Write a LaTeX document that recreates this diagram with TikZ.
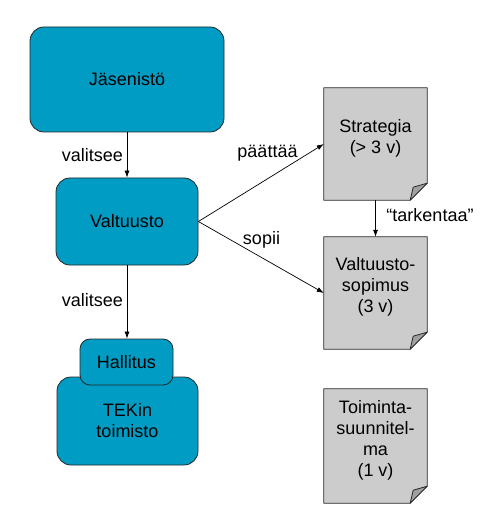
\documentclass[tikz,border=0pt]{standalone}
\usepackage{fontspec}
\setmainfont{Liberation Sans}
\usetikzlibrary{arrows.meta,backgrounds}
\definecolor{tekblue}{RGB}{0,156,196}
\definecolor{paper}{RGB}{204,204,204}
\definecolor{foldgray}{RGB}{160,160,160}
\newcommand{\mainfs}{\fontsize{18}{21}\selectfont}
% paper sheet with a folded corner behind a doc node
\newcommand{\docsheet}[1]{%
  \filldraw[fill=paper, draw=black!85, line width=0.8pt, line join=round]
    (#1.north west) -- (#1.north east) -- ([yshift=17pt]#1.south east)
    -- ([xshift=-17pt]#1.south east) -- (#1.south west) -- cycle;
  \filldraw[fill=foldgray, draw=black!85, line width=0.8pt, line join=round]
    ([yshift=17pt]#1.south east) -- ([xshift=-14pt,yshift=13pt]#1.south east)
    -- ([xshift=-17pt]#1.south east) -- cycle;}

\begin{document}
\begin{tikzpicture}[x=1pt,y=-1pt,
  box/.style={draw=black!85, fill=tekblue, rounded corners=14pt, line width=0.8pt,
    align=center, font=\mainfs, inner sep=0pt},
  doc/.style={minimum width=103pt, minimum height=112pt, inner sep=0pt},
  doctext/.style={align=center, font=\mainfs, inner sep=0pt, yshift=6pt},
  lbl/.style={font=\mainfs, inner sep=0pt},
  arr/.style={-{Latex[length=7pt,width=5pt]}, line width=0.7pt}]
\useasboundingbox (0,0) rectangle (496,526);

% organisation
\node[box, minimum width=194pt, minimum height=105pt] (jas) at (127,79.5) {Jäsenistö};
\node[box, minimum width=142pt, minimum height=87pt] (val) at (127,221.5) {Valtuusto};
\node[box, minimum width=141pt, minimum height=88pt] (tek) at (127.5,421) {TEKin\\toimisto};
\node[box, minimum width=93pt, minimum height=46pt, rounded corners=10pt] (hal) at (126.5,362) {Hallitus};

% documents
\node[doc, label={[doctext]center:{Strategia\\(> 3 v)}}] (str) at (375.5,144) {};
\node[doc, label={[doctext]center:{Valtuusto-\\sopimus\\(3 v)}}] (vsop) at (375.5,293) {};
\node[doc, minimum height=114pt, label={[doctext]center:{Toiminta-\\suunnitel-\\ma\\(1 v)}}] (toim) at (375.5,446) {};
\begin{scope}[on background layer]
  \docsheet{str}
  \docsheet{vsop}
  \docsheet{toim}
\end{scope}

% connectors
\draw[arr] (jas.south) -- (val.north);
\draw[arr] (val.south) -- (val.south |- hal.north);
\draw[arr] (val.east) -- (str.west);
\draw[arr] (val.east) -- (vsop.west);
\draw[arr] (str.south) -- (vsop.north);

\node[lbl] (lval1) at (92.5,155) {valitsee};
\node[lbl] (lval2) at (92.5,300) {valitsee};
\node[lbl] (lpaat) at (267.5,153) {päättää};
\node[lbl] (lsop) at (261.5,240) {sopii};
\node[lbl] (ltark) at (430,215) {“tarkentaa”};
\end{tikzpicture}
\end{document}
